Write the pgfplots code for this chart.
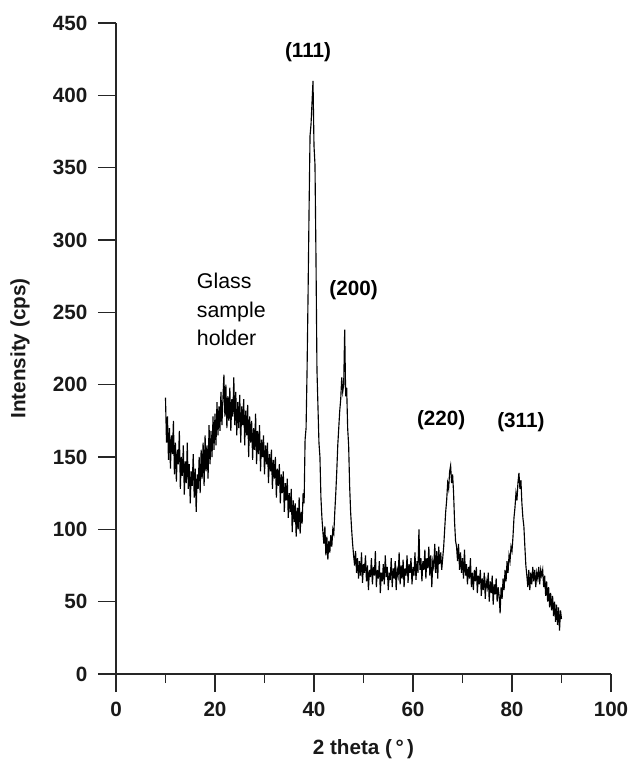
\documentclass[border=0pt]{standalone}
\usepackage{pgfplots}
\pgfplotsset{compat=1.18}
\usepackage{fontspec}
\setmainfont{Liberation Sans}

% XRD pattern, 2 theta vs intensity
\pgfplotstableread{
x y
10.0 191
10.2 160
10.4 178
10.6 148
10.8 170
11.0 142
11.2 165
11.4 152
11.6 175
11.8 138
12.0 160
12.2 133
12.4 155
12.6 145
12.8 168
13.0 128
13.2 150
13.4 137
13.6 158
13.8 124
14.0 147
14.2 132
14.4 160
14.6 128
14.8 145
15.0 118
15.2 140
15.4 130
15.6 152
15.8 122
16.0 142
16.2 112
16.4 138
16.6 128
16.8 150
17.0 125
17.2 155
17.4 135
17.6 160
17.8 130
18.0 165
18.2 140
18.4 158
18.6 135
18.8 172
19.0 145
19.2 168
19.4 150
19.6 178
19.8 155
20.0 180
20.2 158
20.4 188
20.6 165
20.8 185
21.0 168
21.2 195
21.4 172
21.6 190
21.8 207
22.0 178
22.2 200
22.4 170
22.6 192
22.8 175
23.0 198
23.2 168
23.4 190
23.6 178
23.8 205
24.0 172
24.2 195
24.4 165
24.6 188
24.8 170
25.0 193
25.2 160
25.4 185
25.6 172
25.8 190
26.0 158
26.2 182
26.4 165
26.6 186
26.8 150
27.0 178
27.2 160
27.4 175
27.6 148
27.8 170
28.0 155
28.2 180
28.4 145
28.6 168
28.8 152
29.0 172
29.2 140
29.4 162
29.6 150
29.8 165
30.0 138
30.2 158
30.4 145
30.6 160
30.8 132
31.0 152
31.2 140
31.4 155
31.6 128
31.8 148
32.0 135
32.2 150
32.4 122
32.6 142
32.8 130
33.0 145
33.2 118
33.4 138
33.6 125
33.8 140
34.0 112
34.2 132
34.4 120
34.6 135
34.8 108
35.0 125
35.2 112
35.4 128
35.6 98
35.8 120
36.0 105
36.2 118
36.4 95
36.6 115
36.8 100
37.0 122
37.2 97
37.4 112
37.6 104
37.8 125
38.0 118
38.2 162
38.4 170
38.6 210
38.8 262
39.0 320
39.2 372
39.4 380
39.6 395
39.8 410
40.0 365
40.2 352
40.4 288
40.6 210
40.8 185
41.0 160
41.2 150
41.4 122
41.6 108
41.8 98
42.0 90
42.2 102
42.4 82
42.6 95
42.8 79
43.0 92
43.2 84
43.4 96
43.6 88
43.8 100
44.0 97
44.2 112
44.4 125
44.6 140
44.8 158
45.0 170
45.2 182
45.4 190
45.6 205
45.8 195
46.0 200
46.2 238
46.4 192
46.6 198
46.8 170
47.0 158
47.2 130
47.4 112
47.6 100
47.8 90
48.0 82
48.2 75
48.4 85
48.6 70
48.8 80
49.0 66
49.2 78
49.4 68
49.6 84
49.8 63
50.0 76
50.2 70
50.4 82
50.6 64
50.8 75
51.0 58
51.2 72
51.4 67
51.6 80
51.8 62
52.0 74
52.2 68
52.4 85
52.6 60
52.8 72
53.0 66
53.2 78
53.4 56
53.6 70
53.8 64
54.0 76
54.2 62
54.4 82
54.6 67
54.8 74
55.0 58
55.2 70
55.4 65
55.6 80
55.8 60
56.0 73
56.2 66
56.4 78
56.6 58
56.8 72
57.0 68
57.2 84
57.4 62
57.6 75
57.8 66
58.0 79
58.2 60
58.4 73
58.6 68
58.8 82
59.0 63
59.2 76
59.4 70
59.6 80
59.8 62
60.0 74
60.2 68
60.4 84
60.6 65
60.8 78
61.0 70
61.2 100
61.4 72
61.6 80
61.8 64
62.0 78
62.2 72
62.4 86
62.6 66
62.8 80
63.0 73
63.2 88
63.4 68
63.6 82
63.8 60
64.0 78
64.2 74
64.4 90
64.6 70
64.8 85
65.0 66
65.2 88
65.4 76
65.6 84
65.8 72
66.0 80
66.2 88
66.4 100
66.6 112
66.8 120
67.0 132
67.2 128
67.4 140
67.6 144
67.8 132
68.0 138
68.2 125
68.4 105
68.6 92
68.8 88
69.0 78
69.2 90
69.4 72
69.6 84
69.8 70
70.0 80
70.2 66
70.4 86
70.6 68
70.8 76
71.0 62
71.2 74
71.4 66
71.6 80
71.8 60
72.0 70
72.2 58
72.4 72
72.6 64
72.8 74
73.0 56
73.2 68
73.4 62
73.6 72
73.8 54
74.0 66
74.2 58
74.4 70
74.6 52
74.8 64
75.0 60
75.2 70
75.4 50
75.6 64
75.8 56
76.0 68
76.2 48
76.4 62
76.6 55
76.8 66
77.0 50
77.2 60
77.4 54
77.6 42
77.8 60
78.0 52
78.2 66
78.4 58
78.6 72
78.8 64
79.0 78
79.2 70
79.4 82
79.6 78
79.8 88
80.0 85
80.2 95
80.4 108
80.6 115
80.8 125
81.0 120
81.2 132
81.4 139
81.6 128
81.8 134
82.0 118
82.2 108
82.4 102
82.6 88
82.8 75
83.0 68
83.2 60
83.4 72
83.6 58
83.8 70
84.0 62
84.2 74
84.4 64
84.6 72
84.8 60
85.0 70
85.2 66
85.4 74
85.6 62
85.8 72
86.0 68
86.2 72
86.4 60
86.6 68
86.8 54
87.0 64
87.2 50
87.4 60
87.6 46
87.8 56
88.0 44
88.2 54
88.4 40
88.6 50
88.8 36
89.0 48
89.2 34
89.4 46
89.6 30
89.8 44
90.0 38
}\xrd

\begin{document}
\begin{tikzpicture}
\path[use as bounding box] (-87pt,-64.5pt) rectangle (385.5pt,505.5pt);
\begin{axis}[
    at={(0,0)}, anchor=south west,
    scale only axis,
    width=371.25pt, height=488.25pt,
    xmin=0, xmax=100, ymin=0, ymax=450,
    axis x line*=bottom,
    axis y line*=left,
    axis line style={-, line width=1.1pt, black!85},
    every tick/.style={line width=1.1pt, black!85},
    xtick align=outside,
    ytick align=outside,
    major tick length=13.5pt,
    minor tick length=6.75pt,
    xtick={0,20,...,100},
    minor xtick={10,30,...,90},
    ytick={0,50,...,450},
    /pgf/number format/assume math mode=true,
    tick label style={font=\fontsize{15.5}{18}\selectfont\bfseries, black!90},
    xticklabel style={yshift=-4pt},
    yticklabel style={xshift=-4.5pt},
    xlabel={2 theta (\,°\,)},
    ylabel={Intensity (cps)},
    label style={font=\fontsize{15.5}{18}\selectfont\bfseries, black!90},
    xlabel style={at={(axis description cs:0.5,0)}, anchor=center, yshift=-56pt},
    ylabel style={at={(axis description cs:0,0.5)}, anchor=center, rotate=0, yshift=72pt},
    clip=false,
]
\addplot[black, line width=0.85pt] table[x=x, y=y] {\xrd};
\node[font=\fontsize{15.5}{18}\selectfont\bfseries] at (axis cs:38.8,430) {(111)};
\node[font=\fontsize{15.5}{18}\selectfont\bfseries] at (axis cs:48.0,265) {(200)};
\node[font=\fontsize{15.5}{18}\selectfont\bfseries] at (axis cs:65.7,175.5) {(220)};
\node[font=\fontsize{15.5}{18}\selectfont\bfseries] at (axis cs:81.8,174.4) {(311)};
\node[font=\fontsize{16}{21.5}\selectfont, align=left, anchor=west] at (axis cs:15.4,252) {Glass\\sample\\holder};
\end{axis}
\end{tikzpicture}
\end{document}
